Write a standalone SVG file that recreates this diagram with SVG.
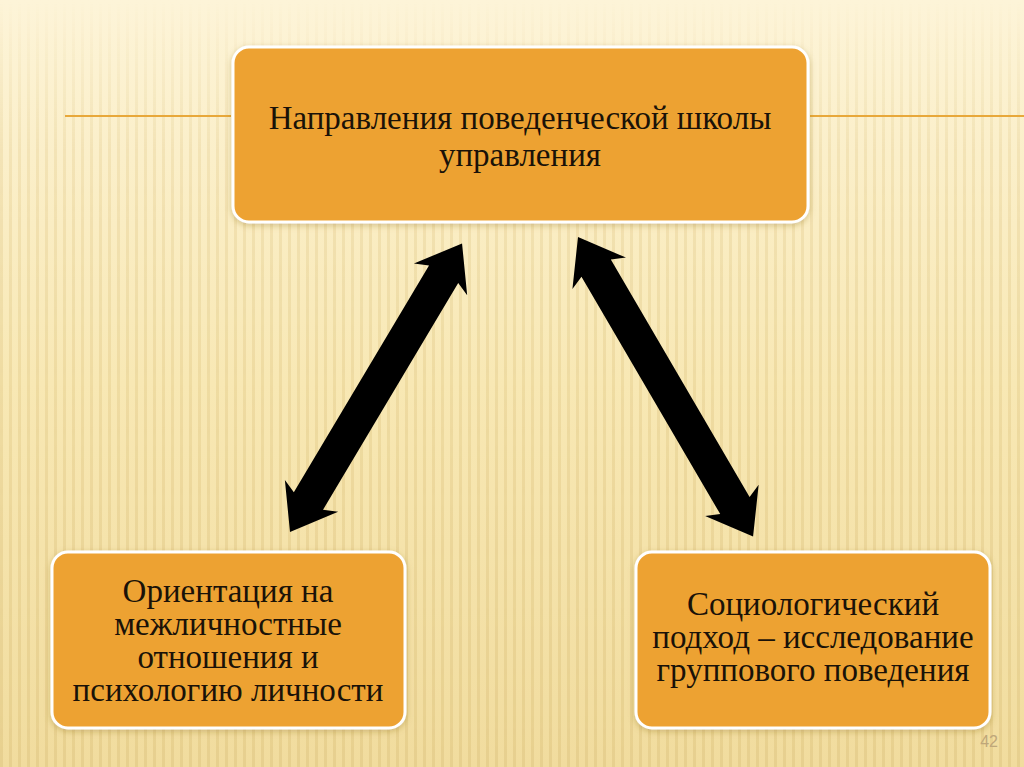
<svg xmlns="http://www.w3.org/2000/svg" width="1024" height="767" viewBox="0 0 1024 767">
  <defs>
    <linearGradient id="bg" x1="0" y1="0" x2="0" y2="1">
      <stop offset="0" stop-color="#FDF4D8"/>
      <stop offset="0.5" stop-color="#F8E8B4"/>
      <stop offset="1" stop-color="#F1DC9E"/>
    </linearGradient>
    <pattern id="stripes" width="9" height="767" patternUnits="userSpaceOnUse">
      <rect x="0" y="0" width="3" height="767" fill="#D9BE78" opacity="0.4"/>
    </pattern>
    <linearGradient id="fade" x1="0" y1="0" x2="0" y2="1">
      <stop offset="0" stop-color="#fff" stop-opacity="0"/>
      <stop offset="0.2" stop-color="#fff" stop-opacity="0.6"/>
      <stop offset="1" stop-color="#fff" stop-opacity="1"/>
    </linearGradient>
    <mask id="m">
      <rect width="1024" height="767" fill="url(#fade)"/>
    </mask>
    <filter id="sh" x="-10%" y="-10%" width="120%" height="130%">
      <feDropShadow dx="0" dy="2" stdDeviation="3" flood-color="#8a6a20" flood-opacity="0.35"/>
    </filter>
  </defs>
  <style>
    .box { fill: #EDA230; stroke: #FFFFFF; stroke-width: 3; filter: url(#sh); }
    .t { font-family: "Liberation Serif", "Times New Roman", serif; fill: #1A1208; text-anchor: middle; font-size: 33px; }
    .arrow { fill: #000000; }
    .deco { stroke: #E8A83A; stroke-width: 2; }
  </style>

  <rect width="1024" height="767" fill="url(#bg)"/>
  <rect width="1024" height="767" fill="url(#stripes)" mask="url(#m)"/>

  <g id="decor">
    <line class="deco" x1="65" y1="116" x2="231" y2="116"/>
    <line class="deco" x1="810" y1="116" x2="1024" y2="116"/>
  </g>

  <g id="connectors">
    <polygon class="arrow" transform="translate(290,532) rotate(-59.2)" points="0,0 42,-31 36,-17 300,-17 294,-31 336,0 294,31 300,17 36,17 42,31"/>
    <polygon class="arrow" transform="translate(578,237) rotate(59.7)" points="0,0 42,-31 36,-17 311,-17 305,-31 347,0 305,31 311,17 36,17 42,31"/>
  </g>

  <g id="node-top">
    <rect class="box" x="233" y="47" width="575" height="175" rx="16"/>
    <text class="t" x="520" y="129">Направления поведенческой школы</text>
    <text class="t" x="520" y="166">управления</text>
  </g>

  <g id="node-left">
    <rect class="box" x="52" y="552" width="353" height="176" rx="16"/>
    <text class="t" x="228" y="602">Ориентация на</text>
    <text class="t" x="228" y="635">межличностные</text>
    <text class="t" x="228" y="668">отношения и</text>
    <text class="t" x="228" y="701">психологию личности</text>
  </g>

  <g id="node-right">
    <rect class="box" x="636" y="552" width="354" height="176" rx="16"/>
    <text class="t" x="813" y="615">Социологический</text>
    <text class="t" x="813" y="648">подход – исследование</text>
    <text class="t" x="813" y="681">группового поведения</text>
  </g>

  <text x="998" y="747" font-family="Liberation Sans, Arial, sans-serif" font-size="16" fill="#BFA77A" text-anchor="end">42</text>
</svg>
